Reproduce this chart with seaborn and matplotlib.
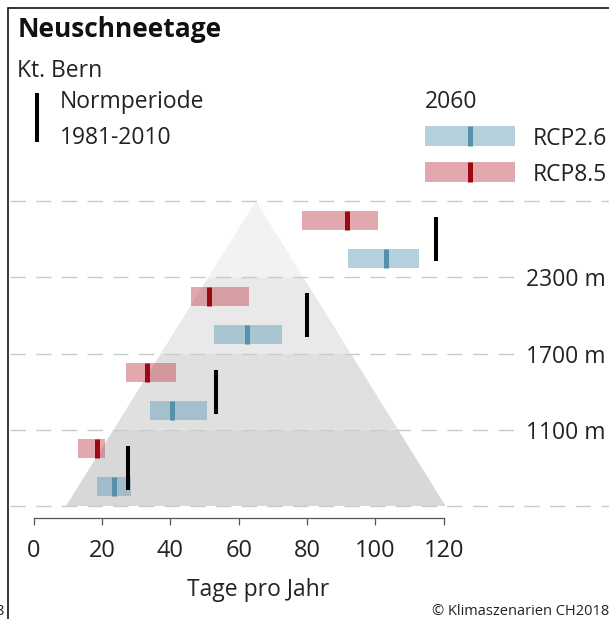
import numpy as np
import pandas as pd
import matplotlib
matplotlib.use("Agg")
import matplotlib.pyplot as plt
import seaborn as sns
from matplotlib.patches import Rectangle
from matplotlib.lines import Line2D
from matplotlib.markers import MarkerStyle

# elevation bands (m) and days with fresh snow, Kt. Bern
band_lo = [500, 1100, 1700, 2300]
band_hi = [1100, 1700, 2300, 2900]
band_labels = ["1100 m", "1700 m", "2300 m"]
band_grays = ["#d8d8d8", "#e0e0e0", "#e9e9e9", "#f2f2f2"]

norm_1981_2010 = [27.6, 53.3, 79.9, 117.8]
rcp26_lo = [18.5, 34.0, 52.7, 92.1]
rcp26_hi = [28.5, 50.7, 72.6, 112.8]
rcp26_med = [23.5, 40.4, 62.3, 103.2]
rcp85_lo = [13.0, 27.0, 46.0, 78.4]
rcp85_hi = [20.9, 41.6, 62.9, 100.6]
rcp85_med = [18.5, 33.1, 51.2, 91.8]
xticks = [0, 20, 40, 60, 80, 100, 120]

BLUE, BLUE_MED = "#6aa2ba", "#5790aa"
RED, RED_MED = "#c4525c", "#9a0a10"
FONT = ["Open Sans", "DejaVu Sans"]

sns.set_theme(style="white")
plt.rcParams["font.family"] = FONT
plt.rcParams["text.color"] = "#222222"

W, H = 609, 619
fx = lambda x: x / W
fy = lambda y: 1 - y / H

fig = plt.figure(figsize=(W / 100, H / 100), dpi=100)
ax = fig.add_axes([fx(9), fy(510), fx(609) - fx(9), fy(195) - fy(510)])
m_per_px = 600 / 76.25
ax.set_xlim((9 - 33.5) / 3.42, (609 - 33.5) / 3.42)
ax.set_ylim(500 - 4 * m_per_px, 2900 + 6 * m_per_px)

mid = np.array([(a + b) / 2 for a, b in zip(band_lo, band_hi)])

# mountain silhouette, shaded per band
apex, base_l, base_r = 65.0, 9.5, 120.5
top, bot = band_hi[-1], band_lo[0]
half = lambda e: (base_r - base_l) / 2 * (top - e) / (top - bot)
for lo, hi, c in zip(band_lo, band_hi, band_grays):
    xs = [apex - half(lo), apex + half(lo), apex + half(hi), apex - half(hi)]
    ax.fill(xs, [lo, lo, hi, hi], color=c, lw=0, zorder=1)

# dashed band borders
xmin, xmax = ax.get_xlim()
for e in [band_lo[0]] + band_hi:
    end = xmax if e in (band_lo[0], band_hi[-1]) else 140.5
    ax.plot([xmin + 0.3, end], [e, e], color="#cacaca", lw=1.0,
            dashes=(11, 7.5), zorder=2, solid_capstyle="butt")

# scenario ranges 2060
bh = 150
ax.barh(mid + 150, np.subtract(rcp85_hi, rcp85_lo), left=rcp85_lo, height=bh,
        color=RED, alpha=0.5, lw=0, zorder=3)
ax.barh(mid - 150, np.subtract(rcp26_hi, rcp26_lo), left=rcp26_lo, height=bh,
        color=BLUE, alpha=0.5, lw=0, zorder=3)

bar_mark = MarkerStyle("|", capstyle="butt")

med = pd.DataFrame({
    "tage": rcp85_med + rcp26_med,
    "hoehe": list(mid + 150) + list(mid - 150),
    "szenario": ["RCP8.5"] * 4 + ["RCP2.6"] * 4,
})
sns.scatterplot(data=med, x="tage", y="hoehe", hue="szenario",
                palette={"RCP8.5": RED_MED, "RCP2.6": BLUE_MED},
                marker=bar_mark, s=(19 * 0.72) ** 2, linewidth=3.6,
                legend=False, ax=ax, zorder=4)

ref = pd.DataFrame({"tage": norm_1981_2010, "hoehe": mid})
sns.scatterplot(data=ref, x="tage", y="hoehe", marker=bar_mark, color="black",
                s=(44 * 0.72) ** 2, linewidth=2.9, legend=False, ax=ax, zorder=5)

# axis styling
sns.despine(ax=ax, left=True)
ax.spines["bottom"].set_position(("outward", 8 * 0.72))
ax.spines["bottom"].set_bounds(0, 120)
ax.spines["bottom"].set_color("#555555")
ax.spines["bottom"].set_linewidth(0.9)
ax.set_xticks(xticks)
ax.set_yticks([])
ax.tick_params(axis="x", bottom=True, direction="out", length=5, width=0.9,
               color="#555555", labelsize=17, labelcolor="#222222", pad=10)
ax.set_xlabel("")
ax.set_ylabel("")
ax.patch.set_alpha(0)

for lab, e in zip(band_labels, band_hi[:3]):
    ax.text(140.5 + 12 / 3.42, e, lab, ha="left", va="center_baseline",
            fontsize=16.5, color="#222222", zorder=6)

# titles and legend (figure pixels)
fig.text(fx(18), fy(37), "Neuschneetage", fontsize=19, fontweight="bold",
         va="baseline", color="#111111")
fig.text(fx(17), fy(77), "Kt. Bern", fontsize=16.5, va="baseline")
fig.add_artist(Line2D([fx(37), fx(37)], [fy(93), fy(142)], color="black",
                      lw=2.9, transform=fig.transFigure, solid_capstyle="butt"))
fig.text(fx(60), fy(108), "Normperiode", fontsize=16.5, va="baseline")
fig.text(fx(60), fy(144), "1981-2010", fontsize=16.5, va="baseline")
fig.text(fx(425), fy(108), "2060", fontsize=16.5, va="baseline")
for y0, c, cm, lab in [(126, BLUE, BLUE_MED, "RCP2.6"), (162, RED, RED_MED, "RCP8.5")]:
    fig.add_artist(Rectangle((fx(425), fy(y0 + 20)), fx(515) - fx(425), fy(y0) - fy(y0 + 20),
                             color=c, alpha=0.5, lw=0, transform=fig.transFigure))
    fig.add_artist(Line2D([fx(470), fx(470)], [fy(y0), fy(y0 + 20)], color=cm,
                          lw=3.6, transform=fig.transFigure, solid_capstyle="butt"))
    fig.text(fx(533), fy(y0 + 10), lab, fontsize=16.5, va="center_baseline")

fig.text(fx(258), fy(596), "Tage pro Jahr", fontsize=16.5, ha="center", va="baseline")
fig.text(fx(609), fy(615), "\u00a9 Klimaszenarien CH2018", fontsize=10.5,
         ha="right", va="baseline")
fig.text(fx(4), fy(615), "8", fontsize=10.5, ha="right", va="baseline")

# frame lines of the original panel
fig.add_artist(Line2D([fx(8), fx(8)], [fy(8), fy(620)], color="black", lw=1.1,
                      transform=fig.transFigure))
fig.add_artist(Line2D([fx(8), fx(610)], [fy(8), fy(8)], color="black", lw=1.1,
                      transform=fig.transFigure))

fig.savefig("out.png", dpi=100)
